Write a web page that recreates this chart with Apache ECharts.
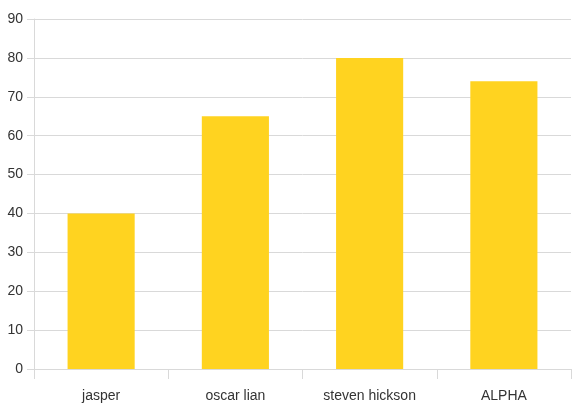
<!DOCTYPE html>
<html>
<head>
<meta charset="utf-8">
<script src="https://cdn.jsdelivr.net/npm/echarts@6/dist/echarts.min.js"></script>
<style>
  html, body { margin: 0; padding: 0; background: #fff; }
  #chart { width: 572px; height: 409px; }
</style>
</head>
<body>
<div id="chart"></div>
<script>
// Category names along the bottom axis
const names = ['jasper', 'oscar lian', 'steven hickson', 'ALPHA'];
// Bar heights
const scores = [40, 65, 80, 74];
// Value axis range
const yMin = 0;
const yMax = 90;
const yStep = 10;

const labelFont = {
  fontFamily: '"Liberation Sans Narrow", "Liberation Sans", Arial, sans-serif',
  fontSize: 14,
  color: '#333333'
};

const chart = echarts.init(document.getElementById('chart'), null, { renderer: 'canvas' });
chart.setOption({
  animation: false,
  grid: { left: 34, right: 1, top: 19, bottom: 40, containLabel: false },
  xAxis: {
    type: 'category',
    data: names,
    boundaryGap: true,
    axisLine: { show: true, lineStyle: { color: '#d9d9d9', width: 1 } },
    axisTick: { show: true, length: 10, lineStyle: { color: '#d9d9d9' } },
    axisLabel: Object.assign({ margin: 20, interval: 0, hideOverlap: false }, labelFont)
  },
  yAxis: {
    type: 'value',
    min: yMin,
    max: yMax,
    interval: yStep,
    axisLine: { show: true, lineStyle: { color: '#d9d9d9', width: 1 } },
    axisTick: { show: true, length: 7, lineStyle: { color: '#d9d9d9' } },
    splitLine: { show: true, lineStyle: { color: '#d9d9d9', width: 1 } },
    axisLabel: Object.assign({ margin: 11 }, labelFont)
  },
  series: [{
    type: 'bar',
    data: scores,
    barWidth: '50%',
    itemStyle: { color: '#ffd320' }
  }]
});
</script>
</body>
</html>
